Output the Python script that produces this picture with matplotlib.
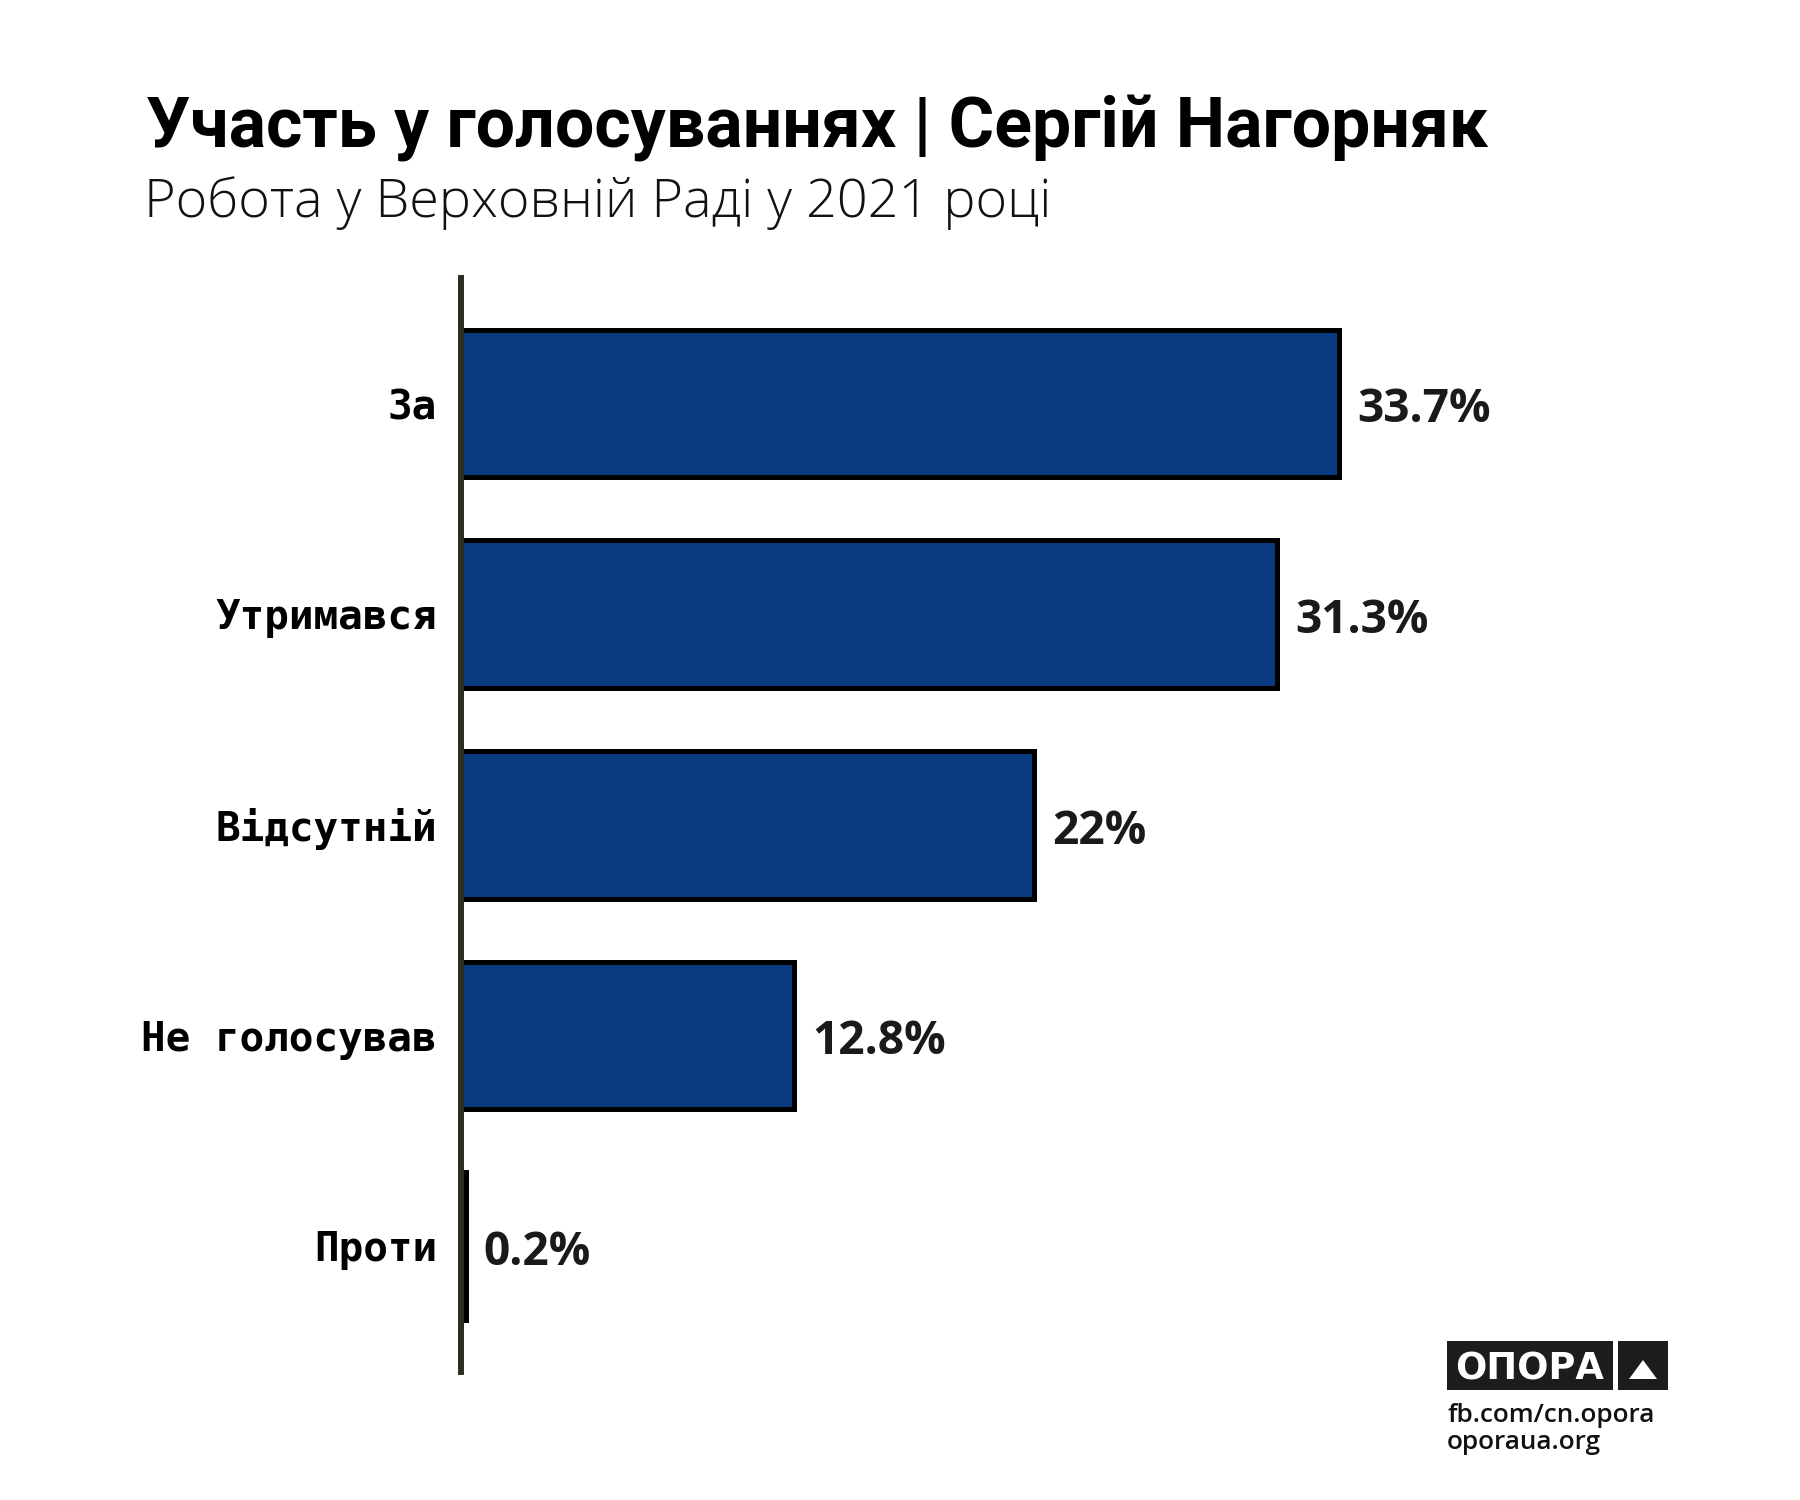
import matplotlib.pyplot as plt
from matplotlib.patches import Rectangle, Polygon

# vote shares for one MP, 2021, top to bottom as in the chart
categories = ["За", "Утримався", "Відсутній", "Не голосував", "Проти"]
shares = [33.7, 31.3, 22, 12.8, 0.2]
share_labels = [f"{v:g}%" for v in shares]

title = "Участь у голосуваннях | Сергій Нагорняк"
subtitle = "Робота у Верховній Раді у 2021 році"
footer_lines = ["fb.com/cn.opora", "oporaua.org"]

W, H = 1800, 1500
fig = plt.figure(figsize=(18, 15), dpi=100)
fig.patch.set_facecolor("white")

# axes box placed in pixels: zero of x at ~460px, 26.08 px per percent
ax = fig.add_axes([460.6 / W, 1 - 1372 / H, 50 * 26.08 / W, (1372 - 278) / H])
ypos = list(range(len(categories)))
bars = ax.barh(ypos, shares, height=0.70, color="#0a3a80", edgecolor="black", linewidth=3.6)
ax.set_xlim(0, 50)
ax.set_ylim(4.597, -0.596)

ax.set_yticks(ypos)
ax.set_yticklabels(categories, fontfamily="DejaVu Sans Mono", fontweight="bold", fontsize=29.5, color="black")
ax.tick_params(axis="y", length=0, pad=17)
ax.set_xticks([])
for side in ["top", "right", "bottom"]:
    ax.spines[side].set_visible(False)
ax.spines["left"].set_color("#2d2d24")
ax.spines["left"].set_linewidth(4.3)

vals = ax.bar_label(bars, labels=share_labels, padding=13, fontsize=33.2,
                    fontfamily="Open Sans", fontweight="bold", color="#1a1a1a")
for t in vals:
    t.xyann = (13, -4.5)   # nudge a bit lower, like the original

# titles
fig.text(146 / W, 1 - 147 / H, title, fontfamily="Roboto", fontweight="bold",
         fontsize=50.2, color="black", va="baseline", ha="left")
fig.text(144 / W, 1 - 217 / H, subtitle, fontfamily="Open Sans", fontweight="light",
         fontsize=38.9, color="#111111", va="baseline", ha="left")

# OPORA logo, bottom right
fig.patches.append(Rectangle((1447 / W, 1 - 1390 / H), 166 / W, 49 / H,
                             transform=fig.transFigure, facecolor="#1c1c1c", edgecolor="none"))
fig.patches.append(Rectangle((1618 / W, 1 - 1390 / H), 50 / W, 49 / H,
                             transform=fig.transFigure, facecolor="#1c1c1c", edgecolor="none"))
fig.patches.append(Polygon([(1629 / W, 1 - 1379 / H), (1657 / W, 1 - 1379 / H), (1643 / W, 1 - 1360 / H)],
                           closed=True, transform=fig.transFigure, facecolor="white", edgecolor="none"))
fig.text(1530 / W, 1 - 1379 / H, "ОПОРА", fontfamily="DejaVu Sans", fontweight="bold",
         fontsize=26.5, color="white", ha="center", va="baseline")
fig.text(1447 / W, 1 - 1422 / H, footer_lines[0], fontfamily="Open Sans", fontweight="semibold",
         fontsize=18.8, color="#111111", ha="left", va="baseline")
fig.text(1447 / W, 1 - 1449 / H, footer_lines[1], fontfamily="Open Sans", fontweight="semibold",
         fontsize=18.8, color="#111111", ha="left", va="baseline")

fig.savefig("out.png", dpi=100, facecolor="white")
